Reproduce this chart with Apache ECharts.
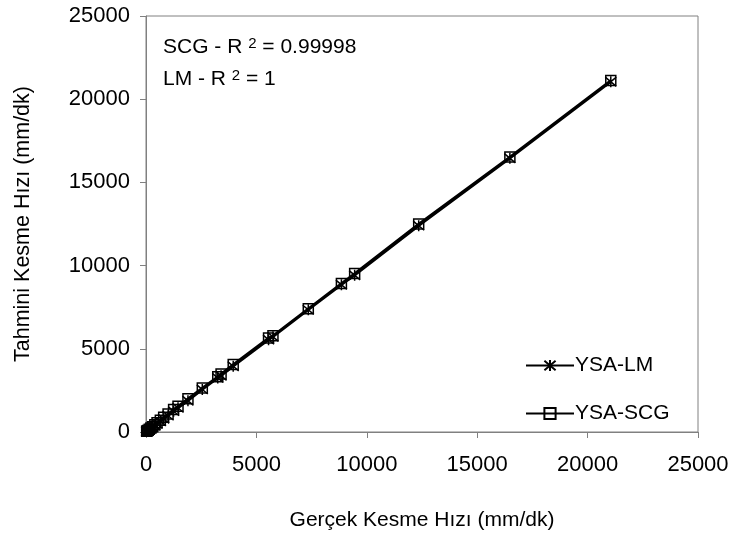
<!DOCTYPE html>
<html>
<head>
<meta charset="utf-8">
<script src="https://cdn.jsdelivr.net/npm/echarts@6/dist/echarts.min.js"></script>
<style>html,body{margin:0;padding:0;background:#fff;}#c{width:736px;height:538px;}</style>
</head>
<body>
<div id="c"></div>
<script>
// Actual (measured) cutting speed, mm/dk
const actual = [30, 60, 100, 150, 220, 300, 400, 500, 650, 800, 1000, 1250, 1450, 1900, 2550, 3250, 3400, 3950, 5550, 5750, 7350, 8850, 9450, 12350, 16480, 21050];
// Predicted by YSA-LM
const predLM = [25, 55, 95, 140, 210, 300, 390, 490, 640, 790, 980, 1250, 1450, 1880, 2560, 3250, 3380, 3950, 5550, 5720, 7340, 8850, 9420, 12400, 16450, 21050];
// Predicted by YSA-SCG
const predSCG = [40, 70, 110, 160, 240, 320, 430, 550, 700, 880, 1080, 1350, 1550, 2000, 2650, 3320, 3480, 4050, 5650, 5780, 7400, 8920, 9520, 12500, 16520, 21120];
const seriesNames = ['YSA-LM', 'YSA-SCG'];
const axisTicks = [0, 5000, 10000, 15000, 20000, 25000];
const annotations = ['SCG - R', '2', ' = 0.99998', 'LM - R', '2', ' = 1'];

const FONT = 'Liberation Sans, Arial, sans-serif';
const pairs = (xs, ys) => xs.map((x, i) => [x, ys[i]]);
const asterisk = 'path://M0,0L10,10M10,0L0,10M5,-1L5,11';

const chart = echarts.init(document.getElementById('c'), null, {renderer: 'canvas'});
chart.setOption({
  animation: false,
  backgroundColor: '#fff',
  textStyle: {fontFamily: FONT, color: '#000'},
  grid: {left: 146, right: 38, top: 16, bottom: 106, show: true, borderColor: '#808080', borderWidth: 1, backgroundColor: 'transparent'},
  xAxis: {
    type: 'value', min: axisTicks[0], max: axisTicks[axisTicks.length - 1], interval: 5000,
    name: 'Gerçek Kesme Hızı (mm/dk)', nameLocation: 'middle', nameGap: 78,
    nameTextStyle: {fontSize: 21, color: '#000', fontFamily: FONT},
    axisLine: {show: true, lineStyle: {color: '#808080', width: 1}},
    axisTick: {show: true, length: 6, lineStyle: {color: '#808080'}},
    axisLabel: {fontSize: 22, color: '#000', margin: 22, fontFamily: FONT, formatter: v => String(v)},
    splitLine: {show: false}
  },
  yAxis: {
    type: 'value', min: axisTicks[0], max: axisTicks[axisTicks.length - 1], interval: 5000,
    name: 'Tahmini Kesme Hızı (mm/dk)', nameLocation: 'middle', nameGap: 112,
    nameTextStyle: {fontSize: 21.5, color: '#000', fontFamily: FONT},
    axisLine: {show: true, lineStyle: {color: '#808080', width: 1}},
    axisTick: {show: true, length: 6, lineStyle: {color: '#808080'}},
    axisLabel: {fontSize: 22, color: '#000', margin: 16, fontFamily: FONT, formatter: v => String(v)},
    splitLine: {show: false}
  },
  legend: {
    orient: 'vertical', left: 520, top: 350, itemWidth: 48, itemHeight: 14, itemGap: 27,
    textStyle: {fontSize: 21, color: '#000', fontFamily: FONT, padding: [0, 0, 0, -4]},
    data: seriesNames
  },
  series: [
    {
      name: seriesNames[0], type: 'line', data: pairs(actual, predLM),
      symbol: asterisk, symbolSize: 11, showAllSymbol: true,
      lineStyle: {color: '#000', width: 2.5},
      itemStyle: {color: '#000', borderColor: '#000', borderWidth: 1.5}
    },
    {
      name: seriesNames[1], type: 'line', data: pairs(actual, predSCG),
      symbol: 'rect', symbolSize: 10, showAllSymbol: true,
      lineStyle: {color: '#000', width: 2.5},
      itemStyle: {color: 'rgba(255,255,255,0)', borderColor: '#000', borderWidth: 1.5}
    }
  ],
  graphic: [
    {
      type: 'text', left: 163, top: 36,
      style: {
        text: '{a|' + annotations[0] + ' }{s|' + annotations[1] + '}{a|' + annotations[2] + '}',
        rich: {a: {fontSize: 21, fontFamily: FONT, color: '#000'},
               s: {fontSize: 15, fontFamily: FONT, color: '#000', padding: [0, 0, 8, 0]}}
      }
    },
    {
      type: 'text', left: 163, top: 68,
      style: {
        text: '{a|' + annotations[3] + ' }{s|' + annotations[4] + '}{a|' + annotations[5] + '}',
        rich: {a: {fontSize: 21, fontFamily: FONT, color: '#000'},
               s: {fontSize: 15, fontFamily: FONT, color: '#000', padding: [0, 0, 8, 0]}}
      }
    }
  ]
});
</script>
</body>
</html>
